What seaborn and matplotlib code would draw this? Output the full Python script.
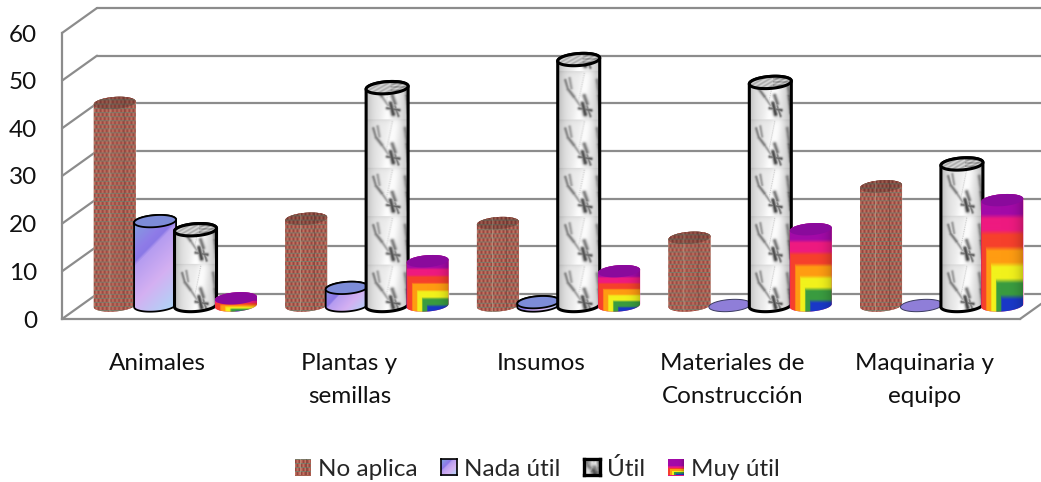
import numpy as np
import pandas as pd
import seaborn as sns
import matplotlib
matplotlib.use('Agg')
import matplotlib.pyplot as plt
from matplotlib.patches import Patch, Polygon
from matplotlib.colors import LinearSegmentedColormap, to_rgb

categorias = ['Animales', 'Plantas y\nsemillas', 'Insumos', 'Materiales de\nConstrucción', 'Maquinaria y\nequipo']
series = ['No aplica', 'Nada útil', 'Útil', 'Muy útil']
no_aplica = [42.5, 18.2, 17.3, 14.2, 25.0]
nada_util = [17.7, 3.7, 0.7, 0.0, 0.0]
util = [15.9, 45.7, 51.6, 46.8, 29.7]
muy_util = [1.5, 9.3, 7.2, 16.0, 22.1]
base_colors = ['#a5614f', '#b8a8f0', '#d8d8d4', '#e01a80']

df = pd.DataFrame({
    'categoria': categorias * 4,
    'serie': np.repeat(series, 5),
    'valor': no_aplica + nada_util + util + muy_util,
})

sns.set_theme(style='white')
plt.rcParams['font.family'] = ['Lato', 'DejaVu Sans']

fig = plt.figure(figsize=(10.41, 4.82), dpi=100)
ax = fig.add_axes([62 / 1041, 1 - 319 / 482, 958 / 1041, 286 / 482])

sns.barplot(data=df, x='categoria', y='valor', hue='serie', order=categorias, hue_order=series,
            palette=base_colors, saturation=1, width=0.844, gap=0, errorbar=None, legend=False, ax=ax)

ax.set_xlim(-0.5, 4.5)
ax.set_ylim(0, 60)
ax.set_yticks(range(0, 61, 10))
ax.set_xlabel('')
ax.set_ylabel('')
ax.tick_params(axis='both', length=0, labelsize=17.5, colors='#111111')
ax.tick_params(axis='y', pad=18)
ax.tick_params(axis='x', pad=24.5)
for lab in ax.get_xticklabels():
    lab.set_linespacing(1.68)
sns.despine(ax=ax)
for side in ['left', 'bottom']:
    ax.spines[side].set_color('#8c8c8c')
    ax.spines[side].set_linewidth(1.6)
ax.patch.set_alpha(0)

# px to data units
px_x = 5 / 958
px_y = 60 / 286
wall_dx, wall_dy = 35 * px_x, 25 * px_y
bar_dx, bar_dy = 17.5 * px_x, 13.5 * px_y

# back wall and side wall
grid_kw = dict(color='#8c8c8c', lw=1.6, clip_on=False, zorder=1)
for v in range(0, 61, 10):
    ax.plot([-0.5 + wall_dx, 4.5 + wall_dx], [v + wall_dy, v + wall_dy], **grid_kw)
    ax.plot([-0.5, -0.5 + wall_dx], [v, v + wall_dy], **grid_kw)
ax.plot([4.5, 4.5 + wall_dx], [0, wall_dy], **grid_kw)


def brick(h, w):
    img = np.ones((h, w, 3)) * np.array(to_rgb('#ae5c50'))
    yy, xx = np.mgrid[0:h, 0:w]
    img[(xx + (yy // 4) * 2) % 4 == 0] = to_rgb('#964640')
    img[(xx + (yy // 4) * 2) % 4 == 2] = to_rgb('#c27262')
    img[yy % 4 == 0] = to_rgb('#7d7a68')
    img[:, int(w * 0.7)] *= 0.82
    img[:, int(w * 0.36)] = img[:, int(w * 0.36)] * 0.55 + 0.45 * np.array(to_rgb('#c8b8a0'))
    return img


nada_cmap = LinearSegmentedColormap.from_list('nada', [
    (0.0, '#7fa8dc'), (0.27, '#8f7ce8'), (0.33, '#8a78e6'), (0.36, '#b59cf0'),
    (0.62, '#d4b0f2'), (1.0, '#a8dcf8')])


def nada(h, w):
    yy, xx = np.mgrid[0:h, 0:w]
    s = 1.0 - (w - xx + h - yy) / (w + h)
    return nada_cmap(s)[:, :, :3]


def stroke(ink, x0, y0, x1, y1, strength, sigma):
    h, w = ink.shape
    yy, xx = np.mgrid[0:h, 0:w]
    for t in np.linspace(0, 1, 14):
        cx, cy = (x0 + (x1 - x0) * t) * w, (y0 + (y1 - y0) * t) * h
        blob = strength * np.exp(-((xx - cx) ** 2 + (yy - cy) ** 2) / (2 * sigma ** 2))
        ink[:] = np.maximum(ink, blob)


def util_tile(h, w):
    ink = np.zeros((h, w))
    stroke(ink, 0.16, 0.18, 0.22, 0.36, 0.45, 1.1)
    stroke(ink, 0.26, 0.14, 0.30, 0.34, 0.35, 1.1)
    stroke(ink, 0.22, 0.36, 0.36, 0.52, 0.5, 1.2)
    stroke(ink, 0.36, 0.52, 0.50, 0.70, 0.4, 1.0)
    stroke(ink, 0.60, 0.50, 0.66, 0.66, 0.6, 1.5)
    stroke(ink, 0.56, 0.66, 0.62, 0.88, 0.85, 1.6)
    stroke(ink, 0.48, 0.76, 0.76, 0.80, 0.7, 1.1)
    stroke(ink, 0.66, 0.72, 0.74, 0.92, 0.55, 1.0)
    stroke(ink, 0.60, 0.04, 0.46, 0.64, 0.2, 0.5)
    stroke(ink, 0.90, 0.18, 0.95, 0.50, 0.4, 1.4)
    stroke(ink, 0.94, 0.50, 0.99, 0.85, 0.55, 1.4)
    yy, xx = np.mgrid[0:h, 0:w]
    streak = np.exp(-(((xx / w) - (0.68 - 0.2 * yy / h)) ** 2) / 0.02)
    paper = 0.92 + 0.07 * streak - 0.06 * np.exp(-yy / 2.0)
    return np.clip(paper - ink * 0.8, 0, 1)


def util_tex(h, w, tile_h):
    tile = util_tile(int(round(tile_h)), w)
    # tiles start from the bottom of the bar
    rows = [tile[(i - h) % tile.shape[0]] for i in range(h)]
    img = np.array(rows)
    xs = np.linspace(-1, 1, w)
    img = img * (1 - 0.2 * np.abs(xs) ** 3)
    return np.dstack([img, img, img])


def util_lid(h, w):
    yy, xx = np.mgrid[0:h, 0:w]
    img = 0.76 + 0.12 * np.sin(xx * 0.9 + yy * 1.7) - 0.25 * (xx / w > 0.55) * ((yy % 3) == 0)
    return np.dstack([img, img, img])


rainbow = ['#1a38c8', '#3a9c40', '#f2f21c', '#ff9c12', '#f6402c', '#ee1a80', '#a30aa8']


def muy(h, w):
    yy, xx = np.mgrid[0:h, 0:w]
    v = np.clip((h - yy - 0.5) / max(h - 6, 1), 0, 0.999)
    u = np.clip((0.6 - (xx + 0.5) / w) / 0.6, 0, 1) * 0.72
    d = np.maximum(u, v)
    # left side of the bar blends the bands
    pos = d * 7 - 0.5
    stops = np.array([to_rgb(c) for c in rainbow])
    lo = np.clip(np.floor(pos).astype(int), 0, 6)
    hi = np.clip(lo + 1, 0, 6)
    frac = np.clip((pos - lo - 0.35) / 0.3, 0, 1)[:, :, None]
    img = stops[lo] * (1 - frac) + stops[hi] * frac
    xs = np.linspace(-1, 1, w)
    return img * (1 - 0.18 * np.clip(xs, 0, 1) ** 3)[None, :, None]


top_colors = ['#8f5044', '#7d8cd8', '#c8c8c6', '#8a0a9c']
edge_lw = [0, 1.3, 2.2, 0]
half_w_px = 21
half_h_px = 6
tilt_px = 1.5
z = 3

for s, cont in enumerate(ax.containers):
    for bar in cont:
        # 3D depth offset for the bar
        bar.set_x(bar.get_x() + bar_dx)
        bar.set_y(bar_dy)
        bar.set_clip_on(False)
        bar.set_zorder(2)
        xc = bar.get_x() + bar.get_width() / 2
        y0, y1 = bar_dy, bar_dy + bar.get_height()
        a, b, tilt = half_w_px * px_x, half_h_px * px_y, tilt_px * px_y
        t = np.linspace(0, 2 * np.pi, 80)
        low = np.linspace(np.pi, 2 * np.pi, 40)
        body = np.vstack([
            np.column_stack([xc + a * np.cos(low), y0 + b * np.sin(low) + tilt * np.cos(low)]),
            np.column_stack([xc + a * np.cos(low[::-1]), y1 - b * np.sin(low) + tilt * np.cos(low[::-1])]),
        ])
        ring = np.column_stack([xc + a * np.cos(t), y1 + b * np.sin(t) + tilt * np.cos(t)])
        h_px = int(max(1, round((y1 - y0 + 2 * b) / px_y)))
        w_px = half_w_px * 2
        ec = 'black' if edge_lw[s] else 'none'
        if bar.get_height() > 0:
            if s == 0:
                tex = brick(h_px, w_px)
            elif s == 1:
                tex = nada(h_px, w_px)
            elif s == 2:
                tex = util_tex(h_px, w_px, 10 / px_y)
            else:
                tex = muy(h_px, w_px)
            poly = Polygon(body, closed=True, fc=base_colors[s], ec='none', clip_on=False, zorder=z)
            ax.add_patch(poly)
            im = ax.imshow(tex, extent=(xc - a, xc + a, y0 - b - tilt, y1 + b), aspect='auto',
                           interpolation='bilinear', zorder=z + 0.1)
            im.set_clip_path(poly)
            im.set_clip_box(fig.bbox)
            ax.add_patch(Polygon(body, closed=True, fc='none', ec=ec, lw=edge_lw[s], clip_on=False, zorder=z + 0.2))
        lid = Polygon(ring, closed=True, fc=top_colors[s], ec='none', clip_on=False, zorder=z + 0.3)
        if s == 1 and bar.get_height() == 0:
            lid.set_facecolor('#8f7ed8')
            lid.set_edgecolor('#3a3a60')
            lid.set_linewidth(0.7)
        ax.add_patch(lid)
        # lids of the textured series
        if s in (0, 2) and bar.get_height() > 0:
            lid_tex = brick(14, w_px) * 0.8 if s == 0 else util_lid(14, w_px)
            lim = ax.imshow(lid_tex, extent=(xc - a, xc + a, y1 - b - tilt, y1 + b + tilt), aspect='auto',
                            interpolation='bilinear', zorder=z + 0.4)
            lim.set_clip_path(lid)
            lim.set_clip_box(fig.bbox)
        if edge_lw[s] and (bar.get_height() > 0):
            ax.add_patch(Polygon(ring, closed=True, fc='none', ec='black', lw=edge_lw[s], clip_on=False, zorder=z + 0.5))
        z += 1

ax.set_xlim(-0.5, 4.5)
ax.set_ylim(0, 60)

handles = [Patch(fc=c, ec='none', label=n) for c, n in zip(base_colors, series)]
leg = ax.legend(handles=handles, ncol=4, frameon=False, fontsize=17.5, loc='center',
                bbox_to_anchor=((537.5 - 62) / 958, (319 - 469) / 286),
                handlelength=0.65, handleheight=0.65, handletextpad=0.3, columnspacing=0.95)

# legend swatches with the same fills
fig.canvas.draw()
swatches = [brick(16, 16), nada(14, 14), util_tex(12, 12, 12), muy(16, 16)]
for i, (handle, tex) in enumerate(zip(leg.get_patches(), swatches)):
    bb = handle.get_window_extent()
    sx = fig.add_axes([bb.x0 / 1041, (bb.y0 + bb.height / 2 - 8) / 482, 16 / 1041, 16 / 482])
    sx.imshow(tex, aspect='auto', interpolation='bilinear')
    sx.set_xticks([])
    sx.set_yticks([])
    for sp in sx.spines.values():
        sp.set_visible(i in (1, 2))
        sp.set_color('black')
        sp.set_linewidth(1.2 if i == 1 else 2.4)

fig.savefig('out.png', dpi=100)
